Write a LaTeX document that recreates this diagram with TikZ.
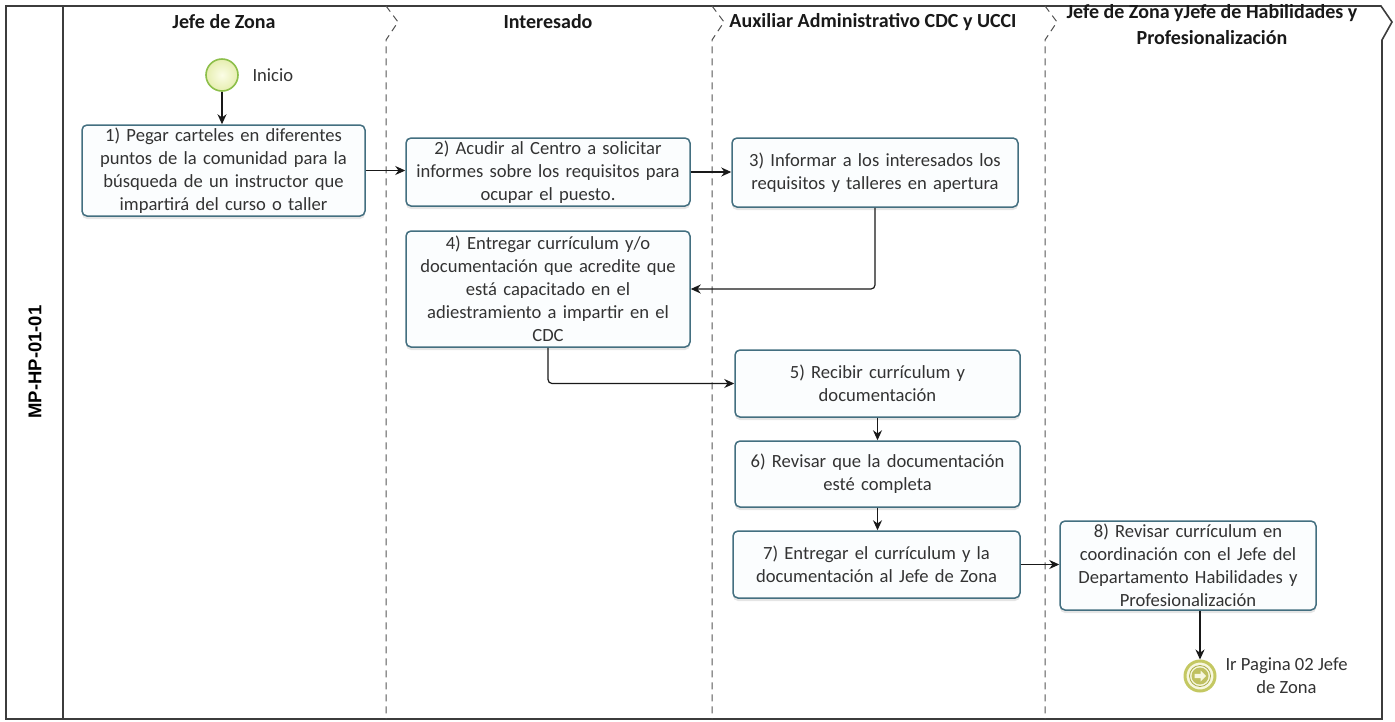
\documentclass[tikz,border=0pt]{standalone}
\usepackage{fontspec}
\setmainfont{Carlito}
\newfontfamily\poolfont{Liberation Sans}
\usetikzlibrary{arrows.meta,shadows}

\definecolor{boxedge}{HTML}{436F80}
\definecolor{boxfill}{HTML}{FBFDFE}
\definecolor{txt}{HTML}{333333}
\definecolor{framecol}{HTML}{3C3C3C}
\definecolor{lanecol}{HTML}{555555}
\definecolor{startedge}{HTML}{8DBF4A}
\definecolor{startin}{HTML}{FBFDE6}
\definecolor{startout}{HTML}{E6EEB0}
\definecolor{endedge}{HTML}{C4C862}
\definecolor{endring}{HTML}{A9AC48}
\definecolor{endcore}{HTML}{BFC060}
\definecolor{endfill}{HTML}{F7F7DF}

\tikzset{
  task/.style={draw=boxedge, line width=1.5pt, rounded corners=5pt, fill=boxfill,
    align=center, text=txt, font=\fontsize{18.6}{23}\selectfont, inner sep=2pt,
    drop shadow={opacity=0.2, shadow xshift=0pt, shadow yshift=-3pt}},
  flow/.style={draw=black!90, line width=1.2pt, -{Stealth[length=10pt,width=9pt]}},
  lanehead/.style={font=\bfseries\fontsize{20}{26}\selectfont, align=center, text=black!90},
  lanediv/.style={draw=lanecol, dash pattern=on 7pt off 5pt, line width=1pt},
  evlabel/.style={font=\fontsize{18.6}{23}\selectfont, text=txt, align=center},
}

\begin{document}
\begin{tikzpicture}[x=1pt,y=-1pt]
\useasboundingbox (0,0) rectangle (1395,721);
\fill[white] (0,0) rectangle (1395,721);

% pool frame and lane dividers
\draw[framecol, line width=1.6pt] (6,6) -- (1381,6) -- (1392,22) -- (1382,40) -- (1382,719) -- (6,719) -- cycle;
\draw[framecol, line width=1.6pt] (63,6) -- (63,719);
\foreach \lx in {386,712,1045}
  \draw[lanediv] (\lx,6) -- (\lx+12,22) -- (\lx,40) -- (\lx,719);

\node[rotate=90, font=\poolfont\bfseries\fontsize{18.5}{20}\selectfont] (pool) at (35,362) {MP-HP-01-01};

% lane headers
\node[lanehead] (h1) at (224,22) {Jefe de Zona};
\node[lanehead] (h2) at (548,22) {Interesado};
\node[lanehead] (h3) at (873,22) {Auxiliar Administrativo CDC y UCCI};
\node[lanehead] (h4) at (1212,25) {Jefe de Zona yJefe de Habilidades y\\Profesionalización};

% events
\node[circle, draw=startedge, line width=1.6pt, inner color=startin, outer color=startout,
      minimum size=32pt, inner sep=0pt] (s) at (222,75) {};
\node[evlabel, anchor=west] (sl) at (249,75) {Inicio};

\node[circle, draw=endedge, line width=3pt, fill=endfill, minimum size=30pt, inner sep=0pt] (e) at (1200,676) {};
\begin{scope}[shift={(e)}]
  \draw[endring, line width=0.8pt] (0,0) circle (10.5pt);
  \fill[endcore] (0,0) circle (8.5pt);
  \fill[endfill] (-5.5,-2.2) -- (0.5,-2.2) -- (0.5,-5.5) -- (6,0) -- (0.5,5.5) -- (0.5,2.2) -- (-5.5,2.2) -- cycle;
\end{scope}
\node[evlabel, anchor=west] (el) at (1222,676) {Ir Pagina 02 Jefe\\de Zona};

% tasks
\node[task, minimum width=283pt, minimum height=91pt, text width=275pt] (t1) at (223.5,170.5)
  {1) Pegar carteles en diferentes\\puntos de la comunidad para la\\búsqueda de un instructor que\\impartirá del curso o taller};
\node[task, minimum width=284pt, minimum height=68pt, text width=276pt] (t2) at (548,172)
  {2) Acudir al Centro a solicitar\\informes sobre los requisitos para\\ocupar el puesto.};
\node[task, minimum width=286pt, minimum height=69pt, text width=278pt] (t3) at (875,172.5)
  {3) Informar a los interesados los\\requisitos y talleres en apertura};
\node[task, minimum width=284pt, minimum height=116pt, text width=276pt] (t4) at (548,289)
  {4) Entregar currículum y/o\\documentación que acredite que\\está capacitado en el\\adiestramiento a impartir en el\\CDC};
\node[task, minimum width=285pt, minimum height=67pt, text width=277pt] (t5) at (877.5,383.5)
  {5) Recibir currículum y\\documentación};
\node[task, minimum width=285pt, minimum height=66pt, text width=277pt] (t6) at (877.5,474)
  {6) Revisar que la documentación\\esté completa};
\node[task, minimum width=287pt, minimum height=67pt, text width=279pt] (t7) at (876.5,564.5)
  {7) Entregar el currículum y la\\documentación al Jefe de Zona};
\node[task, minimum width=256pt, minimum height=89pt, text width=248pt] (t8) at (1188,565.5)
  {8) Revisar currículum en\\coordinación con el Jefe del\\Departamento Habilidades y\\Profesionalización};

% sequence flows
\draw[flow] (s.south) -- (s.south |- t1.north);
\draw[flow] (t1.east) -- (t1.east -| t2.west);
\draw[flow] (t2.east) -- (t2.east -| t3.west);
\draw[flow, rounded corners=4pt] (t3.south) |- (t4.east);
\draw[flow, rounded corners=4pt] (t4.south) |- (t5.west);
\draw[flow] (t5.south) -- (t6.north);
\draw[flow] (t6.south) -- (t6.south |- t7.north);
\draw[flow] (t7.east) -- (t7.east -| t8.west);
\draw[flow] (t8.south -| e) -- (e.north);
\end{tikzpicture}
\end{document}
